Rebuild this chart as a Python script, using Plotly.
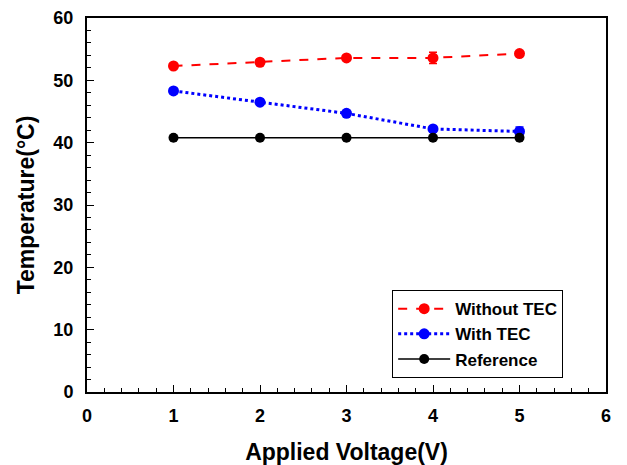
import plotly.graph_objects as go

voltage = [1, 2, 3, 4, 5]
without_tec = [52.3, 52.9, 53.6, 53.6, 54.3]
without_tec_err = [0.3, 0.4, 0.3, 0.9, 0.3]
with_tec = [48.3, 46.5, 44.7, 42.2, 41.8]
with_tec_err = [0.4, 0.3, 0.3, 0.4, 0.7]
reference = [40.8, 40.8, 40.8, 40.8, 40.8]
reference_err = [0.2, 0.2, 0.2, 0.2, 0.2]

font_family = "Liberation Sans, Arial, sans-serif"

fig = go.Figure()
fig.add_trace(go.Scatter(
    x=voltage, y=without_tec, name="Without TEC", mode="lines+markers",
    line=dict(color="#ff0000", width=2, dash="dash"),
    marker=dict(color="#ff0000", size=11),
    error_y=dict(type="data", array=without_tec_err, color="#ff0000", thickness=1.5, width=4),
))
fig.add_trace(go.Scatter(
    x=voltage, y=with_tec, name="With TEC", mode="lines+markers",
    line=dict(color="#0000ff", width=3, dash="dot"),
    marker=dict(color="#0000ff", size=11),
    error_y=dict(type="data", array=with_tec_err, color="#0000ff", thickness=1.5, width=4),
))
fig.add_trace(go.Scatter(
    x=voltage, y=reference, name="Reference", mode="lines+markers",
    line=dict(color="#000000", width=1.5),
    marker=dict(color="#000000", size=10),
    error_y=dict(type="data", array=reference_err, color="#000000", thickness=1, width=3),
))

fig.update_layout(
    width=627, height=465,
    margin=dict(l=87, r=21, t=18, b=73, autoexpand=False),
    paper_bgcolor="white", plot_bgcolor="white",
    font=dict(family=font_family, color="black"),
    showlegend=True,
    legend=dict(
        x=0.588, y=0.037, xanchor="left", yanchor="bottom",
        bordercolor="black", borderwidth=1, bgcolor="white",
        font=dict(size=17, family=font_family, weight="bold"),
        itemwidth=52, tracegroupgap=0,
    ),
    xaxis=dict(
        range=[0, 6], dtick=1, tick0=0,
        showline=True, linecolor="black", linewidth=2, mirror=True,
        ticks="inside", ticklen=7, tickwidth=1, tickcolor="black",
        minor=dict(dtick=0.2, ticks="inside", ticklen=4, tickcolor="black"),
        showgrid=False, zeroline=False, automargin=False,
        ticklabelstandoff=6,
        tickfont=dict(size=18, family=font_family, weight="bold"),
        title=dict(text="Applied Voltage(V)", font=dict(size=23, family=font_family, weight="bold"), standoff=19),
    ),
    yaxis=dict(
        range=[0, 60], dtick=10, tick0=0,
        showline=True, linecolor="black", linewidth=2, mirror=True,
        ticks="inside", ticklen=7, tickwidth=1, tickcolor="black",
        minor=dict(dtick=2, ticks="inside", ticklen=4, tickcolor="black"),
        showgrid=False, zeroline=False, automargin=False,
        ticklabelstandoff=8,
        tickfont=dict(size=18, family=font_family, weight="bold"),
        title=dict(text="Temperature(°C)", font=dict(size=23, family=font_family, weight="bold"), standoff=12),
    ),
)

fig.write_html("out.html", config={"displayModeBar": False},
               post_script="document.body.style.margin='0';")
